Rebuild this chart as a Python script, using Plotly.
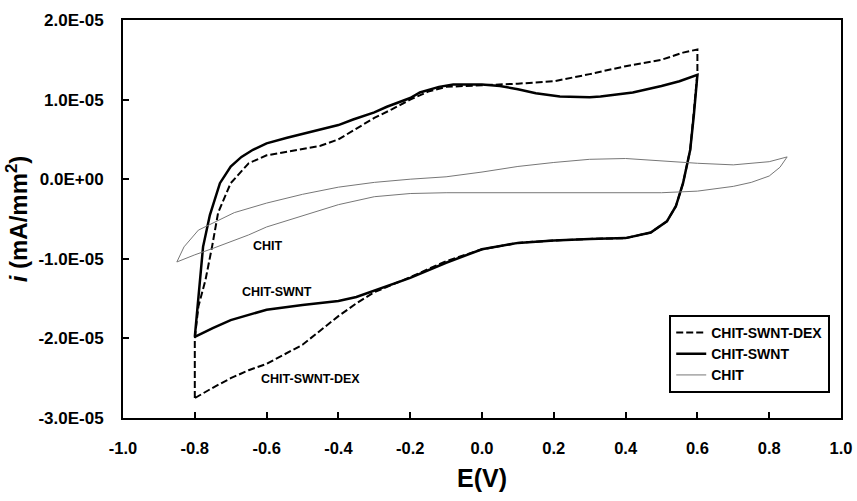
import plotly.graph_objects as go

SCALE = 1e-5  # current values below are in units of 1e-5 mA/mm^2

# CHIT-SWNT-DEX (dashed)
dex_e = [-0.8, -0.8, -0.79, -0.77, -0.752, -0.735, -0.70, -0.68, -0.65, -0.6, -0.55, -0.5, -0.45, -0.4,
         -0.35, -0.3, -0.25, -0.2, -0.15, -0.1, 0.0, 0.1, 0.2, 0.3, 0.4, 0.5, 0.56, 0.6,
         0.6, 0.59, 0.58, 0.56, 0.54, 0.515, 0.47, 0.4, 0.3, 0.2, 0.1, 0.0, -0.1, -0.2, -0.3,
         -0.35, -0.4, -0.5, -0.6, -0.65, -0.7, -0.75, -0.8]
dex_i = [-2.75, -2.0, -1.6, -1.26, -0.85, -0.42, -0.05, 0.05, 0.2, 0.3, 0.34, 0.38, 0.42, 0.5,
         0.63, 0.77, 0.88, 1.0, 1.1, 1.16, 1.18, 1.2, 1.23, 1.32, 1.42, 1.5, 1.59, 1.63,
         1.33, 0.8, 0.37, -0.05, -0.34, -0.53, -0.67, -0.74, -0.75, -0.77, -0.8, -0.88, -1.03, -1.23, -1.42,
         -1.56, -1.72, -2.08, -2.32, -2.4, -2.5, -2.62, -2.75]

# CHIT-SWNT (solid, thick)
swnt_e = [-0.8, -0.79, -0.777, -0.758, -0.73, -0.7, -0.67, -0.638, -0.6, -0.543, -0.5, -0.451, -0.4,
          -0.359, -0.3, -0.265, -0.2, -0.173, -0.12, -0.08, 0.0, 0.05, 0.1, 0.15, 0.217, 0.3, 0.33,
          0.42, 0.5, 0.55, 0.6,
          0.6, 0.59, 0.58, 0.56, 0.54, 0.515, 0.47, 0.4, 0.3, 0.2, 0.1, 0.0, -0.1, -0.2, -0.3, -0.35,
          -0.4, -0.5, -0.6, -0.7, -0.75, -0.8]
swnt_i = [-1.98, -1.48, -0.85, -0.45, -0.05, 0.16, 0.28, 0.37, 0.45, 0.52, 0.57, 0.62, 0.68,
          0.75, 0.84, 0.91, 1.02, 1.09, 1.16, 1.19, 1.19, 1.17, 1.13, 1.08, 1.04, 1.03, 1.04,
          1.09, 1.17, 1.23, 1.31,
          1.31, 0.8, 0.37, -0.05, -0.34, -0.53, -0.67, -0.74, -0.75, -0.77, -0.8, -0.88, -1.05, -1.24, -1.4, -1.48,
          -1.53, -1.58, -1.64, -1.77, -1.87, -1.98]

# CHIT (thin grey)
chit_e = [-0.85, -0.83, -0.79, -0.69, -0.6, -0.5, -0.4, -0.3, -0.2, -0.1, 0.0, 0.1, 0.2, 0.3, 0.4,
          0.5, 0.6, 0.7, 0.8, 0.85,
          0.83, 0.8, 0.75, 0.7, 0.6, 0.5, 0.4, 0.2, 0.0, -0.1, -0.2, -0.3, -0.4, -0.5, -0.6, -0.65,
          -0.7, -0.75, -0.8, -0.85]
chit_i = [-1.04, -0.85, -0.64, -0.42, -0.3, -0.19, -0.1, -0.04, 0.0, 0.03, 0.09, 0.16, 0.21, 0.25, 0.26,
          0.23, 0.2, 0.18, 0.22, 0.28,
          0.15, 0.04, -0.04, -0.09, -0.15, -0.17, -0.17, -0.17, -0.17, -0.17, -0.18, -0.22, -0.32, -0.46, -0.6, -0.7,
          -0.79, -0.87, -0.95, -1.04]

x_ticks = [-1.0, -0.8, -0.6, -0.4, -0.2, 0.0, 0.2, 0.4, 0.6, 0.8, 1.0]
x_tick_labels = ["-1.0", "-0.8", "-0.6", "-0.4", "-0.2", "0.0", "0.2", "0.4", "0.6", "0.8", "1.0"]
y_ticks = [2e-5, 1e-5, 0.0, -1e-5, -2e-5, -3e-5]
y_tick_labels = ["2.0E-05", "1.0E-05", "0.0E+00", "-1.0E-05", "-2.0E-05", "-3.0E-05"]

labels = ["CHIT", "CHIT-SWNT", "CHIT-SWNT-DEX"]
label_e = [-0.596, -0.571, -0.479]
label_i = [-0.84, -1.42, -2.51]

FONT = "Arial, Liberation Sans, sans-serif"

fig = go.Figure()
fig.add_trace(go.Scatter(x=dex_e, y=[v * SCALE for v in dex_i], mode="lines", name="CHIT-SWNT-DEX",
                         line=dict(color="black", width=2, dash="7px,3px")))
fig.add_trace(go.Scatter(x=swnt_e, y=[v * SCALE for v in swnt_i], mode="lines", name="CHIT-SWNT",
                         line=dict(color="black", width=2.5)))
fig.add_trace(go.Scatter(x=chit_e, y=[v * SCALE for v in chit_i], mode="lines", name="CHIT",
                         line=dict(color="#777777", width=1)))

for t, ex, iy in zip(labels, label_e, label_i):
    fig.add_annotation(x=ex, y=iy * SCALE, text=t, showarrow=False,
                       font=dict(family=FONT, size=12.5, color="black", weight="bold"))

fig.update_layout(
    width=857, height=501,
    margin=dict(l=123, r=16, t=20, b=83),
    paper_bgcolor="white", plot_bgcolor="white",
    font=dict(family=FONT, color="black"),
    showlegend=True,
    legend=dict(x=0.985, y=0.063, xanchor="right", yanchor="bottom",
                bgcolor="white", bordercolor="black", borderwidth=2,
                font=dict(family=FONT, size=14, color="black", weight="bold"),
                tracegroupgap=0, itemwidth=30),
)
fig.update_xaxes(range=[-1.0, 1.0], tickvals=x_ticks, ticktext=x_tick_labels,
                 showline=True, linecolor="black", linewidth=2, mirror=True,
                 ticks="inside", ticklen=6, tickwidth=2, tickcolor="black",
                 showgrid=False, zeroline=False, ticklabelstandoff=14, automargin=False,
                 tickfont=dict(family=FONT, size=16.5, weight="bold"),
                 title=dict(text="E(V)", font=dict(family=FONT, size=25, weight="bold"), standoff=14))
fig.update_yaxes(range=[-3e-5, 2e-5], tickvals=y_ticks, ticktext=y_tick_labels,
                 showline=True, linecolor="black", linewidth=2, mirror=True,
                 ticks="inside", ticklen=6, tickwidth=2, tickcolor="black",
                 showgrid=False, zeroline=False, ticklabelstandoff=14, automargin=False,
                 tickfont=dict(family=FONT, size=17, weight="bold"),
                 title=dict(text="<i>i</i> (mA/mm<sup>2</sup>)", font=dict(family=FONT, size=24, weight="bold"),
                            standoff=4))

fig.write_html("out.html")
